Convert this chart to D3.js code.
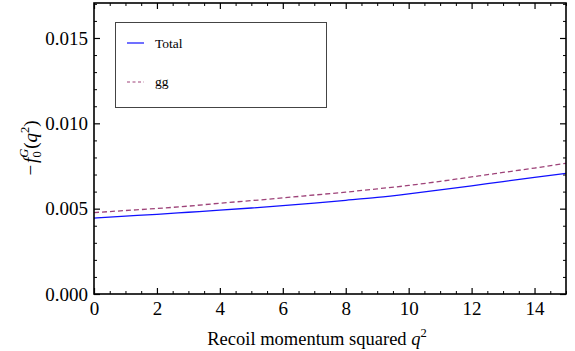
<!DOCTYPE html>
<html><head><meta charset="utf-8">
<script src="https://cdn.jsdelivr.net/npm/d3@7"></script>
<style>body{margin:0;background:#fff}svg{display:block}svg text{font-family:'Liberation Serif','Times New Roman',serif !important}</style>
</head><body><svg id="c" width="575" height="351"></svg>
<script>
const q2 = [0,1,2,3,4,5,6,7,8,9,10,11,12,13,14,15];
const total = [0.00445,0.00456,0.00467,0.00479,0.00491,0.00504,0.00518,0.00533,0.00549,0.00566,0.00587,0.00610,0.00634,0.00659,0.00683,0.00707];
const gg = [0.00477,0.00489,0.00501,0.00515,0.00532,0.00547,0.00563,0.00580,0.00597,0.00616,0.00636,0.00660,0.00686,0.00712,0.00738,0.00766];
const xTicks = [0,2,4,6,8,10,12,14];
const yTicks = [0,0.005,0.010,0.015];
const seriesNames = ["Total","gg"];

const FONT = "'Liberation Serif','Times New Roman',serif";
const svg = d3.select("#c");
const L=94, R=566, T=3, B=294;
const x = d3.scaleLinear().domain([0,15]).range([L,R]);
const y = d3.scaleLinear().domain([0,0.01705]).range([B,T]);

const xMinor = d3.range(0,15.01,0.5).filter(v=>!xTicks.includes(v));
const yMinor = d3.range(0,0.0171,0.001).map(v=>+v.toFixed(3)).filter(v=>!yTicks.some(t=>Math.abs(t-v)<1e-9));

function style(s, major){
  s.attr("font-family",null);
  s.select(".domain").remove();
  s.selectAll("text").attr("font-size",19).attr("fill","#000").style("font-family",FONT);
  s.selectAll("line").attr("stroke","#000").attr("stroke-width",major?1.2:1);
}
const g = svg.append("g");
g.append("g").attr("transform",`translate(0,${B})`)
 .call(d3.axisBottom(x).tickValues(xTicks).tickFormat(d3.format("d")).tickSizeInner(-6).tickSizeOuter(0).tickPadding(8)).call(s=>style(s,true));
g.append("g").attr("transform",`translate(0,${B})`)
 .call(d3.axisBottom(x).tickValues(xMinor).tickFormat("").tickSizeInner(-3).tickSizeOuter(0)).call(s=>style(s,false));
g.append("g").attr("transform",`translate(0,${T})`)
 .call(d3.axisTop(x).tickValues(xTicks).tickFormat("").tickSizeInner(-6).tickSizeOuter(0)).call(s=>style(s,true));
g.append("g").attr("transform",`translate(0,${T})`)
 .call(d3.axisTop(x).tickValues(xMinor).tickFormat("").tickSizeInner(-3).tickSizeOuter(0)).call(s=>style(s,false));
g.append("g").attr("transform",`translate(${L},0)`)
 .call(d3.axisLeft(y).tickValues(yTicks).tickFormat(d3.format(".3f")).tickSizeInner(-6).tickSizeOuter(0).tickPadding(6)).call(s=>style(s,true));
g.append("g").attr("transform",`translate(${L},0)`)
 .call(d3.axisLeft(y).tickValues(yMinor).tickFormat("").tickSizeInner(-3).tickSizeOuter(0)).call(s=>style(s,false));
g.append("g").attr("transform",`translate(${R},0)`)
 .call(d3.axisRight(y).tickValues(yTicks).tickFormat("").tickSizeInner(-6).tickSizeOuter(0)).call(s=>style(s,true));
g.append("g").attr("transform",`translate(${R},0)`)
 .call(d3.axisRight(y).tickValues(yMinor).tickFormat("").tickSizeInner(-3).tickSizeOuter(0)).call(s=>style(s,false));

// curves
const line = d3.line().x((d,i)=>x(q2[i])).y(d=>y(d)).curve(d3.curveMonotoneX);
svg.append("path").datum(gg).attr("d",line).attr("fill","none").attr("stroke","#9e4379").attr("stroke-width",1.3).attr("stroke-dasharray","5,3");
svg.append("path").datum(total).attr("d",line).attr("fill","none").attr("stroke","#1010ff").attr("stroke-width",1.3);

// frame
svg.append("rect").attr("x",L).attr("y",T).attr("width",R-L).attr("height",B-T).attr("fill","none").attr("stroke","#000").attr("stroke-width",1.6);

// legend
svg.append("rect").attr("x",115.5).attr("y",22.5).attr("width",211).attr("height",85).attr("fill","#fff").attr("stroke","#444").attr("stroke-width",1);
svg.append("line").attr("x1",127).attr("x2",144).attr("y1",43).attr("y2",43).attr("stroke","#1010ff").attr("stroke-width",1.2);
svg.append("line").attr("x1",127).attr("x2",144).attr("y1",82).attr("y2",82).attr("stroke","#9e4379").attr("stroke-width",1).attr("stroke-dasharray","3,2.5");
svg.append("text").attr("x",155).attr("y",47.5).attr("font-size",13.5).text(seriesNames[0]);
svg.append("text").attr("x",155).attr("y",86).attr("font-size",13.5).text(seriesNames[1]);

// x label
const xl = svg.append("text").attr("x",317).attr("y",345).attr("text-anchor","middle").attr("font-size",18.5);
xl.append("tspan").text("Recoil momentum squared ");
xl.append("tspan").attr("font-style","italic").text("q");
xl.append("tspan").attr("font-size",12.5).attr("dy",-8).text("2");

// y label
const yl = svg.append("text").attr("transform","translate(37,148) rotate(-90)").attr("text-anchor","middle").attr("font-size",19);
yl.append("tspan").text("\u2212");
yl.append("tspan").attr("font-style","italic").attr("dx",2).text("f");
yl.append("tspan").attr("font-size",12.5).attr("dy",4).text("0");
yl.append("tspan").attr("font-size",12.5).attr("font-style","italic").attr("dx",-6.5).attr("dy",-13).text("G");
yl.append("tspan").attr("dy",9).text("(");
yl.append("tspan").attr("font-style","italic").text("q");
yl.append("tspan").attr("font-size",12.5).attr("dy",-8).text("2");
yl.append("tspan").attr("dy",8).text(")");
</script></body></html>
